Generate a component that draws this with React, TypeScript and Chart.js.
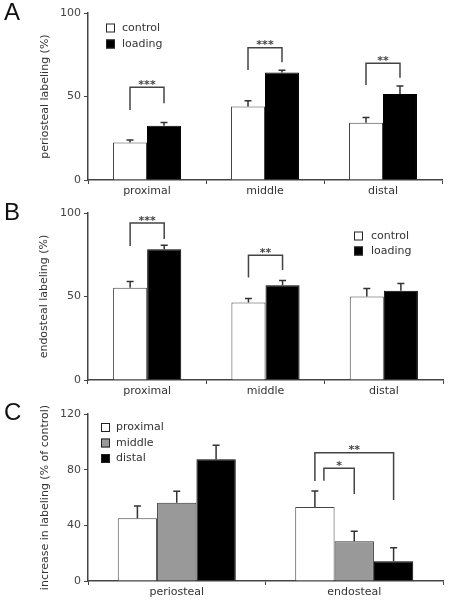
import React, { useEffect, useRef } from "react";
import { Chart, registerables } from "chart.js";
Chart.register(...registerables);

// ---------- Data ----------
const sites = ["proximal", "middle", "distal"];
const aControl = [22.5, 44, 34.3];
const aControlErr = [1.5, 3.5, 3.2];
const aLoading = [32.5, 64.3, 51.5];
const aLoadingErr = [2, 1.4, 4.8];

const bControl = [55.2, 46.4, 50];
const bControlErr = [3.8, 2.4, 4.8];
const bLoading = [78.3, 56.8, 53.4];
const bLoadingErr = [2.4, 2.8, 4.4];

const surfaces = ["periosteal", "endosteal"];
const cProximal = [45.1, 53.2];
const cProximalErr = [8.8, 11.5];
const cMiddle = [56.3, 28.5];
const cMiddleErr = [8.2, 7.2];
const cDistal = [87.4, 14.2];
const cDistalErr = [10.1, 9.7];

// significance brackets: category index, dataset from/to, top value, leg end values, label
const aBrackets = [
  { cat: 0, from: 0, to: 1, top: 55.5, left: 41.9, right: 45.9, label: "***" },
  { cat: 1, from: 0, to: 1, top: 79.2, left: 65.9, right: 70.5, label: "***" },
  { cat: 2, from: 0, to: 1, top: 69.9, left: 56.9, right: 61.3, label: "**" },
];
const bBrackets = [
  { cat: 0, from: 0, to: 1, top: 94, left: 80.3, right: 84.5, label: "***" },
  { cat: 1, from: 0, to: 1, top: 74.7, left: 61.4, right: 65.8, label: "**" },
];
const cBrackets = [
  { cat: 1, from: 0, to: 2, top: 92.2, left: 71.9, right: 58.2, label: "**" },
  { cat: 1, from: 0, to: 1, top: 81, left: 72.1, right: 62.5, label: "*", shift: 9 },
];

const FONT = "'DejaVu Sans', Verdana, sans-serif";
const TXT = "#333";
const AXIS = "#444";

function makeDecor(opts: any, errs: number[][]) {
  return {
    id: "decor",
    afterDatasetsDraw(chart: any) {
      const ctx = chart.ctx;
      const y = chart.scales.y;
      const area = chart.chartArea;
      ctx.save();
      // error bars (upper only)
      chart.data.datasets.forEach((ds: any, i: number) => {
        const meta = chart.getDatasetMeta(i);
        meta.data.forEach((el: any, j: number) => {
          const v = ds.data[j];
          const e = errs[i][j];
          const yt = y.getPixelForValue(v + e);
          ctx.strokeStyle = "#333";
          ctx.lineWidth = 1.5;
          ctx.beginPath();
          ctx.moveTo(el.x, el.y);
          ctx.lineTo(el.x, yt);
          ctx.moveTo(el.x - 3.5, yt);
          ctx.lineTo(el.x + 3.5, yt);
          ctx.stroke();
        });
      });
      // brackets
      opts.brackets.forEach((b: any) => {
        const x1 = chart.getDatasetMeta(b.from).data[b.cat].x + (b.shift || 0);
        const x2 = chart.getDatasetMeta(b.to).data[b.cat].x;
        const yt = y.getPixelForValue(b.top);
        ctx.strokeStyle = "#444";
        ctx.lineWidth = 1.5;
        ctx.beginPath();
        ctx.moveTo(x1, y.getPixelForValue(b.left));
        ctx.lineTo(x1, yt);
        ctx.lineTo(x2, yt);
        ctx.lineTo(x2, y.getPixelForValue(b.right));
        ctx.stroke();
        ctx.fillStyle = "#444";
        ctx.font = `bold 11px ${FONT}`;
        ctx.textAlign = "center";
        ctx.textBaseline = "alphabetic";
        ctx.fillText(b.label, (x1 + x2) / 2, yt + 0.5);
      });
      // panel letter
      ctx.fillStyle = "#111";
      ctx.font = "24px 'Liberation Sans', Arial, sans-serif";
      ctx.textAlign = "left";
      ctx.textBaseline = "alphabetic";
      ctx.fillText(opts.letter, 4, 20);
      // y title
      ctx.save();
      ctx.translate(opts.titleX, (area.top + area.bottom) / 2);
      ctx.rotate(-Math.PI / 2);
      ctx.fillStyle = TXT;
      ctx.font = `11px ${FONT}`;
      ctx.textAlign = "center";
      ctx.textBaseline = "middle";
      ctx.fillText(opts.title, 0, 0);
      ctx.restore();
      // legend
      chart.data.datasets.forEach((ds: any, i: number) => {
        const ly = opts.legendY + i * opts.legendGap;
        ctx.fillStyle = ds.backgroundColor;
        ctx.fillRect(opts.legendX, ly - 4.5, 9, 9);
        ctx.strokeStyle = "#222";
        ctx.lineWidth = 1;
        ctx.strokeRect(opts.legendX + 0.5, ly - 4, 8, 8);
        ctx.fillStyle = TXT;
        ctx.font = `11px ${FONT}`;
        ctx.textAlign = "left";
        ctx.textBaseline = "middle";
        ctx.fillText(ds.label, opts.textX, ly);
      });
      ctx.restore();
    },
  };
}

function makeConfig(p: any) {
  return {
    type: "bar",
    data: { labels: p.labels, datasets: p.datasets },
    plugins: [makeDecor(p.decor, p.errs)],
    options: {
      animation: false,
      responsive: false,
      devicePixelRatio: 1,
      layout: { padding: { top: p.padTop, right: p.padRight, left: 0, bottom: 0 } },
      datasets: { bar: { categoryPercentage: p.catPct, barPercentage: 1 } },
      plugins: {
        legend: { display: false },
        tooltip: { enabled: false },
      },
      scales: {
        x: {
          grid: { display: true, drawOnChartArea: false, drawTicks: true, tickLength: 4, color: AXIS, lineWidth: 1 },
          border: { display: true, color: AXIS, width: 1.5 },
          ticks: { font: { family: FONT, size: 11 }, color: TXT, padding: 1 },
          afterFit: (s: any) => { s.height = p.xHeight; },
        },
        y: {
          min: 0,
          max: p.yMax,
          grid: { display: true, drawOnChartArea: false, drawTicks: true, tickLength: 4, color: AXIS, lineWidth: 1 },
          border: { display: true, color: AXIS, width: 1.5 },
          ticks: { stepSize: p.yStep, font: { family: FONT, size: 11 }, color: "#444", padding: 3 },
          afterFit: (s: any) => { s.width = 88; },
        },
      },
    },
  };
}

function Panel({ top, config }: { top: number; config: any }) {
  const ref = useRef<HTMLCanvasElement | null>(null);
  useEffect(() => {
    const chart = new Chart(ref.current as HTMLCanvasElement, config);
    return () => chart.destroy();
  }, []);
  return (
    <div style={{ position: "absolute", left: 0, top, width: 450, height: 200 }}>
      <canvas ref={ref} width={450} height={200} style={{ width: 450, height: 200, display: "block" }} />
    </div>
  );
}

const ctrlStyle = { backgroundColor: "#ffffff", borderColor: "#444", borderWidth: 1 };
const blackStyle = { backgroundColor: "#000000", borderColor: "#000", borderWidth: 1 };
const grayStyle = { backgroundColor: "#999999", borderColor: "#333", borderWidth: 1 };

const configA = makeConfig({
  labels: sites,
  datasets: [
    { label: "control", data: aControl, ...ctrlStyle },
    { label: "loading", data: aLoading, ...blackStyle },
  ],
  errs: [aControlErr, aLoadingErr],
  padTop: 13, padRight: 8, xHeight: 20, catPct: 0.576, yMax: 100, yStep: 50,
  decor: { letter: "A", title: "periosteal labeling (%)", titleX: 45, legendX: 106, textX: 122, legendY: 28, legendGap: 16, brackets: aBrackets },
});

const configB = makeConfig({
  labels: sites,
  datasets: [
    { label: "control", data: bControl, ...ctrlStyle },
    { label: "loading", data: bLoading, ...blackStyle },
  ],
  errs: [bControlErr, bLoadingErr],
  padTop: 13, padRight: 7, xHeight: 20, catPct: 0.576, yMax: 100, yStep: 50,
  decor: { letter: "B", title: "endosteal labeling (%)", titleX: 44, legendX: 354, textX: 371, legendY: 36, legendGap: 15, brackets: bBrackets },
});

const configC = makeConfig({
  labels: surfaces,
  datasets: [
    { label: "proximal", data: cProximal, ...ctrlStyle },
    { label: "middle", data: cMiddle, ...grayStyle },
    { label: "distal", data: cDistal, ...blackStyle },
  ],
  errs: [cProximalErr, cMiddleErr, cDistalErr],
  padTop: 14, padRight: 7, xHeight: 19, catPct: 0.665, yMax: 120, yStep: 40,
  decor: { letter: "C", title: "increase in labeling (% of control)", titleX: 45, legendX: 101, textX: 116, legendY: 27.5, legendGap: 15.5, brackets: cBrackets },
});

export default function App() {
  return (
    <div style={{ position: "absolute", left: 0, top: 0, width: 450, height: 600, background: "#fff" }}>
      <Panel top={0} config={configA} />
      <Panel top={200} config={configB} />
      <Panel top={400} config={configC} />
    </div>
  );
}
